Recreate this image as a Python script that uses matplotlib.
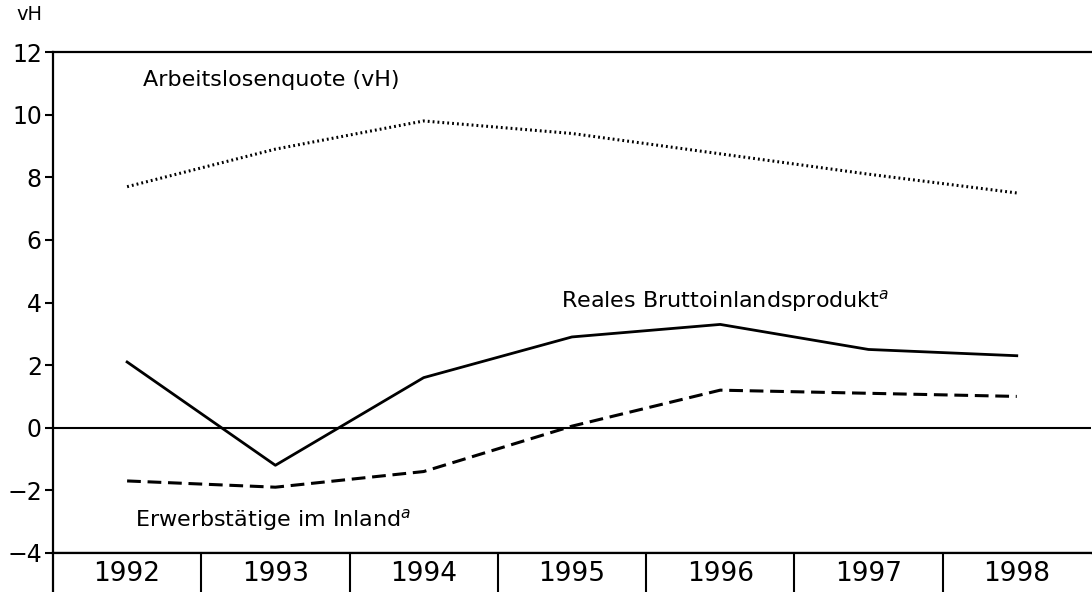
import matplotlib
matplotlib.use("Agg")
import matplotlib.pyplot as plt
import numpy as np

years = ["1992", "1993", "1994", "1995", "1996", "1997", "1998"]
arbeitslosenquote = [7.7, 8.9, 9.8, 9.4, 8.75, 8.1, 7.5]
bip_real = [2.1, -1.2, 1.6, 2.9, 3.3, 2.5, 2.3]
erwerbstaetige = [-1.7, -1.9, -1.4, 0.05, 1.2, 1.1, 1.0]
y_ticks = [-4, -2, 0, 2, 4, 6, 8, 10, 12]

plt.rcParams['font.family'] = ['DejaVu Sans']

fig = plt.figure(figsize=(10.92, 5.92), dpi=100)
ax = fig.add_axes([0.0485, 0.066, 0.9505, 0.846])
x = np.arange(len(years))

# the three series
ax.plot(x, arbeitslosenquote, color='black', lw=2.2, linestyle=(0, (0.6, 1.0)))
ax.plot(x, bip_real, color='black', lw=2.0, linestyle='-')
ax.plot(x, erwerbstaetige, color='black', lw=2.2, linestyle=(0, (4.5, 2.2)))
ax.axhline(0, color='black', lw=1.5)

ax.set_xlim(-0.5, len(years) - 0.5)
ax.set_ylim(-4, 12)
ax.set_xticks([])
ax.set_yticks(y_ticks)
ax.set_yticklabels([str(t).replace('-', '\u2212') for t in y_ticks], fontsize=17)
ax.tick_params(axis='y', direction='out', length=6, width=1.5, pad=2)
for s in ['top', 'left', 'bottom']:
    ax.spines[s].set_linewidth(1.6)
ax.spines['right'].set_visible(False)

fig.text(0.027, 0.975, 'vH', fontsize=14, ha='center', va='center')

# series labels
ax.text(0.97, 11.1, 'Arbeitslosenquote (vH)', fontsize=16, ha='center', va='center')
ax.text(4.03, 4.05, 'Reales Bruttoinlandsprodukt$^{a}$', fontsize=16, ha='center', va='center')
ax.text(0.05, -2.95, 'Erwerbst\u00e4tige im Inland$^{a}$', fontsize=16, ha='left', va='center')

# year boxes under the chart
axy = fig.add_axes([0.0485, 0.0, 0.9505, 0.066])
axy.set_xlim(-0.5, len(years) - 0.5)
axy.set_ylim(0, 1)
axy.set_xticks([])
axy.set_yticks([])
for s in ['right', 'bottom']:
    axy.spines[s].set_visible(False)
axy.spines['left'].set_linewidth(1.6)
axy.spines['top'].set_linewidth(1.6)
for i, yr in enumerate(years):
    axy.text(i, 0.45, yr, fontsize=19, ha='center', va='center')
    if i > 0:
        axy.axvline(i - 0.5, color='black', lw=1.5)

fig.savefig('out.png', dpi=100)
